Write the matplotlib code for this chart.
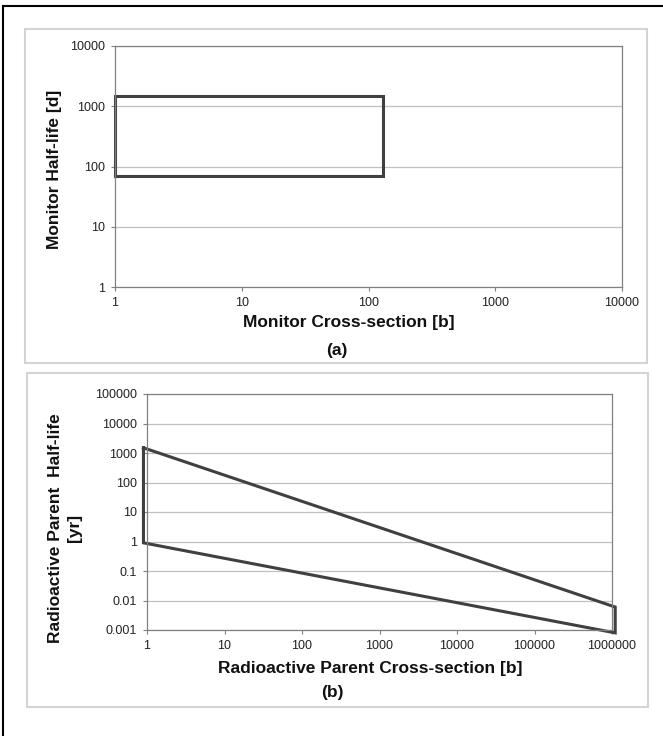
import matplotlib.pyplot as plt
from matplotlib.patches import Rectangle
from matplotlib.lines import Line2D

plt.rcParams['font.family'] = ['Liberation Sans', 'DejaVu Sans']

# Panel (a): monitor range
monitor_xs = [1, 130, 130, 1, 1]
monitor_ys = [70, 70, 1500, 1500, 70]
a_xticks = [1, 10, 100, 1000, 10000]
a_yticks = [1, 10, 100, 1000, 10000]
a_xlabels = ["1", "10", "100", "1000", "10000"]
a_ylabels = ["1", "10", "100", "1000", "10000"]

# Panel (b): radioactive parent range
parent_xs = [0.9, 1.1e6, 1.1e6, 0.9, 0.9]
parent_ys = [1500, 0.006, 0.0008, 0.9, 1500]
b_xticks = [1, 10, 100, 1000, 10000, 100000, 1000000]
b_yticks = [0.001, 0.01, 0.1, 1, 10, 100, 1000, 10000, 100000]
b_xlabels = ["1", "10", "100", "1000", "10000", "100000", "1000000"]
b_ylabels = ["0.001", "0.01", "0.1", "1", "10", "100", "1000", "10000", "100000"]

W, H = 663, 736
fig = plt.figure(figsize=(W / 100, H / 100), dpi=100)


def box(x0, y0, x1, y1):
    # pixel box -> figure fraction rect
    return [x0 / W, 1 - y1 / H, (x1 - x0) / W, (y1 - y0) / H]


def px(x, y):
    return x / W, 1 - y / H


# page border (only left and top edges show)
fig.add_artist(Line2D([3 / W, 3 / W], [0, 1 - 6 / H], color='black', lw=1.5))
fig.add_artist(Line2D([3 / W, 1], [1 - 6 / H, 1 - 6 / H], color='black', lw=1.5))

# chart-area frames
for x0, y0, x1, y1 in [(25, 29, 647, 363), (27, 373, 648, 707)]:
    fig.add_artist(Rectangle((x0 / W, 1 - y1 / H), (x1 - x0) / W, (y1 - y0) / H,
                             fill=False, edgecolor='#d4d4d4', lw=1.5))


def style(ax, xticks, xlabels, yticks, ylabels):
    ax.set_xscale('log')
    ax.set_yscale('log')
    ax.set_xlim(xticks[0], xticks[-1])
    ax.set_ylim(yticks[0], yticks[-1])
    ax.set_xticks(xticks)
    ax.set_xticklabels(xlabels)
    ax.set_yticks(yticks)
    ax.set_yticklabels(ylabels)
    ax.minorticks_off()
    ax.tick_params(labelsize=9, length=3, width=0.8, color='#808080',
                   labelcolor='#222222', pad=4)
    ax.grid(True, axis='y', color='#c0c0c0', lw=0.9)
    for s in ax.spines.values():
        s.set_color('#808080')
        s.set_linewidth(0.9)
    ax.set_axisbelow(True)


bold = dict(fontsize=12.5, fontweight='bold', ha='center', va='center',
            color='#111111')

ax1 = fig.add_axes(box(115, 46, 622, 287))
ax1.plot(monitor_xs, monitor_ys, color='#404040', lw=2.2, clip_on=False,
         solid_joinstyle='miter')
style(ax1, a_xticks, a_xlabels, a_yticks, a_ylabels)
fig.text(*px(349, 322), "Monitor Cross-section [b]", **bold)
fig.text(*px(55, 169), "Monitor Half-life [d]", rotation=90, **bold)
fig.text(*px(337, 351), "(a)", **bold)

ax2 = fig.add_axes(box(147, 394, 612, 630))
ax2.plot(parent_xs, parent_ys, color='#404040', lw=2.2, clip_on=False,
         solid_joinstyle='miter')
style(ax2, b_xticks, b_xlabels, b_yticks, b_ylabels)
fig.text(*px(370, 668), "Radioactive Parent Cross-section [b]", **bold)
fig.text(*px(65, 528), "Radioactive Parent  Half-life\n[yr]", rotation=90,
         linespacing=1.3, **bold)
fig.text(*px(332, 693), "(b)", **bold)

fig.savefig("out.png", dpi=100)
